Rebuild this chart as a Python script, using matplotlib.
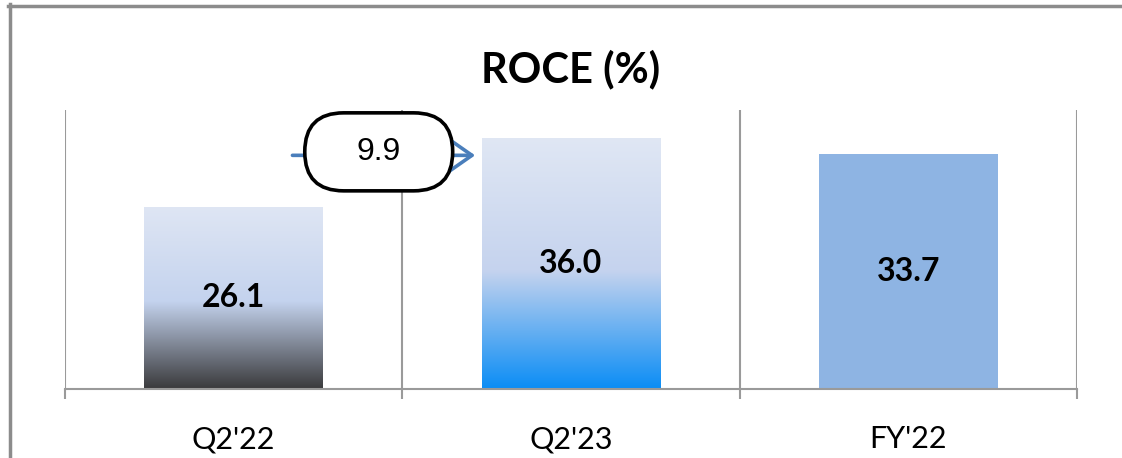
import numpy as np
import matplotlib
matplotlib.use("Agg")
import matplotlib.pyplot as plt
from matplotlib.colors import LinearSegmentedColormap
from matplotlib.patches import FancyBboxPatch
from matplotlib.lines import Line2D

# данные
categories = ["Q2'22", "Q2'23", "FY'22"]
values = [26.1, 36.0, 33.7]
change_label = "9.9"

# градиенты для столбцов (None = сплошная заливка)
bar_gradients = [
    [(0.0, "#dfe6f4"), (0.52, "#c4d3ee"), (1.0, "#3a3a3c")],
    [(0.0, "#e0e7f4"), (0.53, "#c5d3ee"), (1.0, "#0b8df5")],
    None,
]
solid_color = "#8eb4e3"
grid_color = "#9a9a9a"

fig = plt.figure(figsize=(11.22, 4.58), dpi=100)
ax = fig.add_axes([65 / 1122, 1 - 389 / 458, (1077 - 65) / 1122, (389 - 110) / 458])

x = np.arange(len(categories))
bar_w = 0.53
bars = ax.bar(x, values, width=bar_w, color=solid_color, zorder=2)

# градиентная заливка через imshow, обрезанная по прямоугольнику столбца
for bar, grad, v in zip(bars, bar_gradients, values):
    if grad is None:
        continue
    cmap = LinearSegmentedColormap.from_list("g", grad)
    img = np.linspace(0, 1, 256).reshape(-1, 1)
    x0 = bar.get_x()
    im = ax.imshow(img, cmap=cmap, aspect="auto", zorder=3,
                   extent=[x0, x0 + bar.get_width(), 0, v], origin="upper")
    im.set_clip_path(bar)

# подписи значений
for xi, v in zip(x, values):
    ax.text(xi, v / 2, f"{v:.1f}", ha="center", va="center", fontsize=23,
            fontweight="bold", family="Lato", zorder=5)

ax.set_xlim(-0.5, 2.5)
ax.set_ylim(0, 40)
ax.set_yticks([])
ax.set_xticks(x)
ax.set_xticklabels(categories, fontsize=22, family="Lato")
ax.tick_params(axis="x", which="major", length=0, pad=26)
ax.set_xticks([-0.5, 0.5, 1.5, 2.5], minor=True)
ax.tick_params(axis="x", which="minor", length=7, width=1.5, color=grid_color, direction="out")
ax.grid(True, axis="x", which="minor", color=grid_color, lw=1.5, zorder=1)
for s in ["left", "right", "top"]:
    ax.spines[s].set_visible(False)
ax.spines["bottom"].set_color(grid_color)
ax.spines["bottom"].set_linewidth(1.5)
ax.spines["bottom"].set_zorder(4)

# стрелка изменения и «таблетка» с разницей
y_arrow = 33.5
ax.annotate("", xy=(0.724, y_arrow), xytext=(0.166, y_arrow),
            arrowprops=dict(arrowstyle="->,head_length=1.0,head_width=0.7",
                            color="#4a7ebb", lw=2.6, mutation_scale=20),
            zorder=6)
px_x = 1 / 337.5
px_y = 40 / 279
bw, bh = 148 * px_x, 78 * px_y
cx, cy = 0.43, 34.0
pill = FancyBboxPatch((cx - bw / 2, cy - bh / 2), bw, bh,
                      boxstyle=f"round,pad=0,rounding_size={39 * px_x}",
                      mutation_aspect=px_y / px_x,
                      fc="white", ec="black", lw=2.6, zorder=7)
ax.add_patch(pill)
ax.text(cx, cy, change_label, ha="center", va="center", fontsize=23,
        family="Liberation Sans", zorder=8)

# заголовок
fig.text(571 / 1122, 1 - 82 / 458, "ROCE (%)", ha="center", va="baseline",
         fontsize=30, fontweight="bold", family="Lato")

# серая рамка сверху и слева
fig.add_artist(Line2D([8 / 1122, 1], [1 - 6 / 458, 1 - 6 / 458], color="#8c8c8c", lw=2.5))
fig.add_artist(Line2D([9.5 / 1122, 9.5 / 1122], [0, 1 - 4 / 458], color="#8c8c8c", lw=2.5))

fig.savefig("out.png", dpi=100)
